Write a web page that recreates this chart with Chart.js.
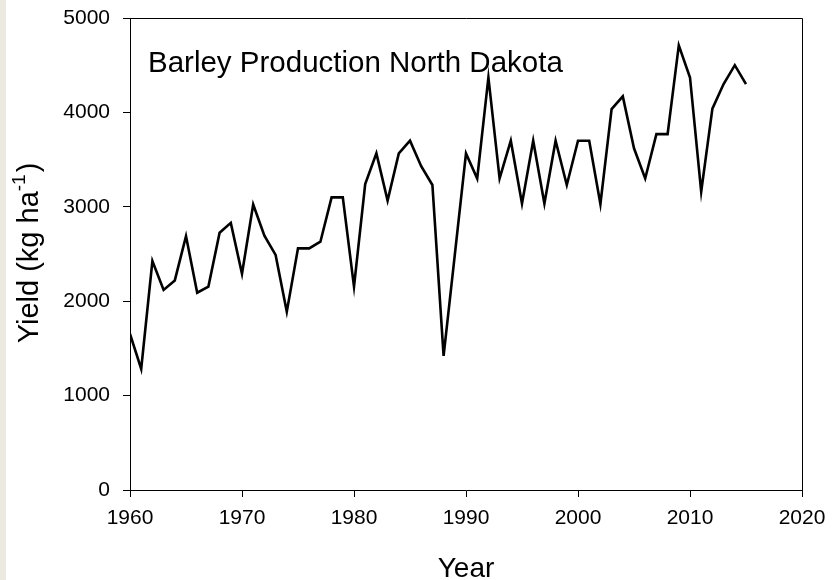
<!DOCTYPE html>
<html>
<head>
<meta charset="utf-8">
<script src="https://cdn.jsdelivr.net/npm/chart.js@4"></script>
<style>
  html, body { margin: 0; padding: 0; background: #fff; }
  #wrap { position: relative; width: 833px; height: 580px; }
  #strip { position: absolute; left: 0; top: 0; width: 6px; height: 580px; background: #ece9e1; }
  canvas { position: absolute; left: 0; top: 0; }
</style>
</head>
<body>
<div id="wrap">
  <canvas id="chart" width="833" height="580"></canvas>
  <div id="strip"></div>
</div>
<script>
const years = [
  1960, 1961, 1962, 1963, 1964, 1965, 1966, 1967, 1968, 1969,
  1970, 1971, 1972, 1973, 1974, 1975, 1976, 1977, 1978, 1979,
  1980, 1981, 1982, 1983, 1984, 1985, 1986, 1987, 1988, 1989,
  1990, 1991, 1992, 1993, 1994, 1995, 1996, 1997, 1998, 1999,
  2000, 2001, 2002, 2003, 2004, 2005, 2006, 2007, 2008, 2009,
  2010, 2011, 2012, 2013, 2014, 2015,
];
const yields = [
  1653, 1282, 2425, 2120, 2220, 2690, 2090, 2155, 2725, 2830,
  2290, 3025, 2695, 2490, 1889, 2560, 2560, 2630, 3100, 3100,
  2154, 3240, 3566, 3065, 3566, 3700, 3430, 3231, 1420, 2490,
  3566, 3300, 4370, 3300, 3700, 3035, 3700, 3035, 3700, 3231,
  3700, 3700, 3030, 4035, 4170, 3620, 3300, 3770, 3770, 4710,
  4370, 3160, 4040, 4300, 4500, 4300,
];
const xTicks = [1960, 1970, 1980, 1990, 2000, 2010, 2020];
const yTicks = [0, 1000, 2000, 3000, 4000, 5000];

const chartTitle = "Barley Production North Dakota";
const xTitle = "Year";
const yTitle = "Yield (kg ha";
const yTitleSup = "-1";

const FONT = "Arial, 'Liberation Sans', Helvetica, sans-serif";

// frame, in-plot title and axis titles
const decor = {
  id: "decor",
  afterDraw(chart) {
    const { ctx, chartArea: a } = chart;
    ctx.save();
    ctx.strokeStyle = "#000";
    ctx.lineWidth = 1;
    ctx.beginPath();
    ctx.moveTo(a.left, a.top + 0.5);
    ctx.lineTo(a.right + 0.5, a.top + 0.5);
    ctx.lineTo(a.right + 0.5, a.bottom);
    ctx.stroke();

    ctx.fillStyle = "#000";
    ctx.font = "29.5px " + FONT;
    ctx.textAlign = "left";
    ctx.textBaseline = "alphabetic";
    ctx.fillText(chartTitle, a.left + 18, 72);

    ctx.font = "28px " + FONT;
    ctx.textAlign = "center";
    ctx.fillText(xTitle, (a.left + a.right) / 2, 577);

    // rotated y title with superscript
    ctx.translate(38, (a.top + a.bottom) / 2);
    ctx.rotate(-Math.PI / 2);
    ctx.font = "29px " + FONT;
    const w1 = ctx.measureText(yTitle).width;
    ctx.font = "19px " + FONT;
    const w2 = ctx.measureText(yTitleSup).width;
    ctx.font = "29px " + FONT;
    const w3 = ctx.measureText(")").width;
    const x0 = -(w1 + w2 + w3) / 2;
    ctx.textAlign = "left";
    ctx.fillText(yTitle, x0, 0);
    ctx.font = "19px " + FONT;
    ctx.fillText(yTitleSup, x0 + w1, -13);
    ctx.font = "29px " + FONT;
    ctx.fillText(")", x0 + w1 + w2 + 2, 0);
    ctx.restore();
  },
};

new Chart(document.getElementById("chart"), {
  type: "line",
  data: {
    datasets: [{
      data: years.map((y, i) => ({ x: y, y: yields[i] })),
      borderColor: "#000",
      borderWidth: 2.6,
      pointRadius: 0,
      tension: 0,
      fill: false,
    }],
  },
  options: {
    responsive: false,
    animation: false,
    layout: { padding: { top: 18, right: 31, left: 0, bottom: 0 } },
    plugins: { legend: { display: false }, tooltip: { enabled: false } },
    scales: {
      x: {
        type: "linear",
        min: 1960,
        max: 2020,
        afterBuildTicks: (s) => { s.ticks = xTicks.map((v) => ({ value: v })); },
        afterFit: (s) => { s.height = 90; s.paddingLeft = 0; s.paddingRight = 0; },
        border: { display: true, color: "#000", width: 1 },
        grid: { drawOnChartArea: false, drawTicks: true, tickLength: 7, color: "#000" },
        ticks: {
          color: "#000",
          font: { family: FONT, size: 21 },
          padding: 9,
          maxRotation: 0,
          callback: (v) => String(v),
        },
      },
      y: {
        min: 0,
        max: 5000,
        afterBuildTicks: (s) => { s.ticks = yTicks.map((v) => ({ value: v })); },
        afterFit: (s) => { s.width = 130; s.paddingTop = 0; s.paddingBottom = 0; },
        border: { display: true, color: "#000", width: 1 },
        grid: { drawOnChartArea: false, drawTicks: true, tickLength: 7, color: "#000" },
        ticks: {
          color: "#000",
          font: { family: FONT, size: 21 },
          padding: 13,
          callback: (v) => String(v),
        },
      },
    },
  },
  plugins: [decor],
});
</script>
</body>
</html>
